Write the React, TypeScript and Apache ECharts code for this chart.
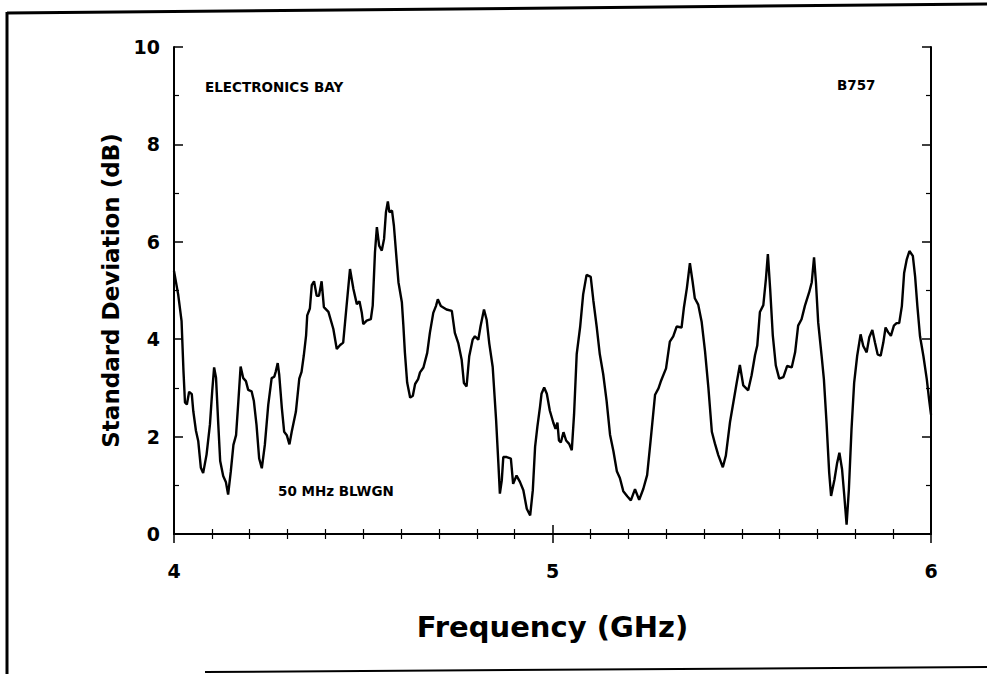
import React, { useEffect, useRef } from "react";
import * as echarts from "echarts";

// Frequency (GHz) sample points
const freq: number[] = [
  4.0, 4.011, 4.02, 4.025, 4.029, 4.034, 4.04, 4.047, 4.051, 4.058, 4.064, 4.071, 4.077, 4.086, 4.095,
  4.101, 4.106, 4.111, 4.117, 4.122, 4.13, 4.137, 4.143, 4.15, 4.157, 4.164, 4.17, 4.176, 4.183, 4.19,
  4.196, 4.205, 4.211, 4.218, 4.225, 4.232, 4.24, 4.249, 4.258, 4.265, 4.269, 4.274, 4.278, 4.285, 4.291,
  4.298, 4.305, 4.311, 4.322, 4.331, 4.337, 4.343, 4.349, 4.352, 4.359, 4.364, 4.37, 4.377, 4.383, 4.39,
  4.396, 4.408, 4.421, 4.43, 4.439, 4.447, 4.456, 4.465, 4.474, 4.483, 4.49, 4.496, 4.5, 4.509, 4.52,
  4.525, 4.531, 4.536, 4.542, 4.549, 4.555, 4.56, 4.565, 4.569, 4.576, 4.581, 4.588, 4.593, 4.602, 4.606,
  4.61, 4.616, 4.624, 4.631, 4.637, 4.645, 4.65, 4.659, 4.669, 4.676, 4.685, 4.692, 4.697, 4.705, 4.72,
  4.734, 4.742, 4.751, 4.76, 4.766, 4.773, 4.78, 4.789, 4.795, 4.804, 4.81, 4.819, 4.826, 4.833, 4.842,
  4.851, 4.857, 4.861, 4.866, 4.87, 4.879, 4.89, 4.896, 4.905, 4.914, 4.923, 4.932, 4.941, 4.948, 4.954,
  4.96, 4.967, 4.971, 4.978, 4.985, 4.993, 5.002, 5.008, 5.013, 5.017, 5.022, 5.029, 5.036, 5.044, 5.051,
  5.057, 5.064, 5.073, 5.081, 5.09, 5.101, 5.108, 5.117, 5.125, 5.134, 5.143, 5.152, 5.161, 5.17, 5.178,
  5.187, 5.198, 5.207, 5.218, 5.229, 5.24, 5.25, 5.259, 5.271, 5.28, 5.286, 5.3, 5.31, 5.319, 5.328,
  5.341, 5.347, 5.355, 5.363, 5.37, 5.376, 5.385, 5.394, 5.403, 5.412, 5.421, 5.429, 5.438, 5.45, 5.458,
  5.469, 5.478, 5.487, 5.495, 5.504, 5.517, 5.526, 5.535, 5.541, 5.548, 5.557, 5.564, 5.569, 5.575, 5.582,
  5.59, 5.599, 5.61, 5.62, 5.632, 5.641, 5.649, 5.658, 5.667, 5.678, 5.685, 5.691, 5.696, 5.702, 5.711,
  5.717, 5.724, 5.731, 5.736, 5.745, 5.752, 5.758, 5.765, 5.771, 5.777, 5.783, 5.79, 5.797, 5.805, 5.814,
  5.821, 5.83, 5.837, 5.845, 5.852, 5.859, 5.867, 5.874, 5.88, 5.887, 5.894, 5.902, 5.909, 5.916, 5.923,
  5.929, 5.936, 5.943, 5.952, 5.958, 5.964, 5.971, 5.98, 5.989, 5.995, 6.0,
];

// Standard deviation (dB) at each frequency
const stdDev: number[] = [
  5.4, 4.92, 4.37, 3.35, 2.7, 2.66, 2.92, 2.87, 2.52, 2.12, 1.91, 1.36, 1.25, 1.63, 2.25,
  2.94, 3.42, 3.21, 2.25, 1.5, 1.19, 1.07, 0.81, 1.28, 1.83, 2.03, 2.72, 3.44, 3.2, 3.14,
  2.96, 2.93, 2.73, 2.24, 1.55, 1.35, 1.83, 2.65, 3.2, 3.23, 3.34, 3.51, 3.27, 2.58, 2.1,
  2.03, 1.84, 2.1, 2.51, 3.19, 3.33, 3.67, 4.08, 4.49, 4.63, 5.11, 5.19, 4.89, 4.89, 5.19,
  4.66, 4.56, 4.21, 3.8, 3.88, 3.93, 4.69, 5.44, 5.03, 4.72, 4.78, 4.55, 4.31, 4.38, 4.41,
  4.69, 5.79, 6.3, 5.92, 5.82, 6.06, 6.61, 6.83, 6.61, 6.64, 6.33, 5.65, 5.17, 4.76, 4.28,
  3.73, 3.11, 2.8, 2.84, 3.08, 3.18, 3.32, 3.42, 3.72, 4.13, 4.54, 4.68, 4.82, 4.68, 4.61,
  4.58, 4.13, 3.92, 3.58, 3.1, 3.03, 3.65, 3.99, 4.06, 3.99, 4.27, 4.61, 4.4, 3.91, 3.43,
  2.34, 1.45, 0.83, 1.1, 1.58, 1.58, 1.55, 1.03, 1.2, 1.07, 0.9, 0.52, 0.38, 0.9, 1.79,
  2.2, 2.61, 2.88, 3.01, 2.88, 2.53, 2.29, 2.16, 2.29, 1.92, 1.88, 2.09, 1.92, 1.85, 1.72,
  2.46, 3.7, 4.25, 4.92, 5.32, 5.28, 4.79, 4.24, 3.69, 3.28, 2.73, 2.04, 1.7, 1.29, 1.15,
  0.88, 0.77, 0.69, 0.92, 0.7, 0.93, 1.21, 1.9, 2.86, 2.99, 3.13, 3.4, 3.95, 4.06, 4.26,
  4.24, 4.64, 5.05, 5.56, 5.19, 4.84, 4.71, 4.36, 3.75, 2.99, 2.1, 1.86, 1.62, 1.37, 1.61,
  2.3, 2.71, 3.12, 3.47, 3.05, 2.95, 3.26, 3.67, 3.87, 4.56, 4.7, 5.25, 5.75, 5.04, 4.08,
  3.46, 3.19, 3.22, 3.45, 3.42, 3.73, 4.28, 4.41, 4.69, 4.96, 5.17, 5.68, 5.17, 4.34, 3.66,
  3.18, 2.29, 1.26, 0.78, 1.12, 1.46, 1.67, 1.33, 0.78, 0.19, 0.91, 2.15, 3.11, 3.66, 4.1,
  3.86, 3.73, 4.04, 4.19, 3.93, 3.69, 3.66, 3.93, 4.24, 4.14, 4.07, 4.28, 4.33, 4.33, 4.68,
  5.36, 5.64, 5.81, 5.71, 5.29, 4.68, 4.06, 3.65, 3.17, 2.76, 2.45,
];

const xTitle = "Frequency (GHz)";
const yTitle = "Standard Deviation (dB)";
const notes = [
  { text: "ELECTRONICS BAY", left: 205, top: 80 },
  { text: "B757", left: 837, top: 78 },
  { text: "50 MHz BLWGN", left: 278, top: 484 },
];

const FONT = "DejaVu Sans";

export default function App() {
  const ref = useRef<HTMLDivElement>(null);
  useEffect(() => {
    if (!ref.current) return;
    const chart = echarts.init(ref.current, undefined, { renderer: "svg" });
    const data = freq.map((f, i) => [f, stdDev[i]]);
    const axisLine = { show: true, lineStyle: { color: "#000", width: 2 } };
    const xCommon = {
      type: "value" as const,
      min: 4,
      max: 6,
      interval: 1,
      axisLine,
      axisTick: { show: true, inside: true, length: 9, lineStyle: { color: "#000", width: 1.5 } },
      minorTick: { show: true, splitNumber: 10, length: 5, lineStyle: { color: "#000", width: 1.2 } },
      splitLine: { show: false },
      minorSplitLine: { show: false },
    };
    const yCommon = {
      type: "value" as const,
      min: 0,
      max: 10,
      interval: 2,
      axisLine,
      axisTick: { show: true, inside: true, length: 9, lineStyle: { color: "#000", width: 1.5 } },
      minorTick: { show: true, splitNumber: 2, length: 5, lineStyle: { color: "#000", width: 1.2 } },
      splitLine: { show: false },
      minorSplitLine: { show: false },
    };
    chart.setOption({
      animation: false,
      backgroundColor: "#fff",
      grid: { left: 174, right: 56, top: 47, bottom: 140, containLabel: false },
      xAxis: [
        {
          ...xCommon,
          position: "bottom",
          name: xTitle,
          nameLocation: "middle",
          nameGap: 78,
          nameTextStyle: { fontFamily: FONT, fontWeight: "bold", fontSize: 29, color: "#000" },
          axisLabel: { margin: 27, fontFamily: FONT, fontWeight: "bold", fontSize: 19, color: "#000" },
        },
        { ...xCommon, position: "top", axisLabel: { show: false } },
      ],
      yAxis: [
        {
          ...yCommon,
          position: "left",
          name: yTitle,
          nameLocation: "middle",
          nameGap: 52,
          nameTextStyle: { fontFamily: FONT, fontWeight: "bold", fontSize: 23, color: "#000" },
          axisLabel: { margin: 14, fontFamily: FONT, fontWeight: "bold", fontSize: 19, color: "#000" },
        },
        { ...yCommon, position: "right", axisLabel: { show: false } },
      ],
      series: [
        {
          type: "line",
          data,
          showSymbol: false,
          smooth: false,
          lineStyle: { color: "#000", width: 2.4 },
          z: 3,
        },
      ],
      graphic: [
        ...notes.map((n) => ({
          type: "text",
          left: n.left,
          top: n.top,
          style: { text: n.text, fontFamily: FONT, fontWeight: "bold", fontSize: 13.5, fill: "#000" },
        })),
        { type: "line", shape: { x1: 7, y1: 13, x2: 987, y2: 4 }, style: { stroke: "#000", lineWidth: 3 } },
        { type: "line", shape: { x1: 7, y1: 12, x2: 7, y2: 674 }, style: { stroke: "#000", lineWidth: 3 } },
        { type: "line", shape: { x1: 205, y1: 672, x2: 987, y2: 667 }, style: { stroke: "#000", lineWidth: 2 } },
      ],
    });
    return () => chart.dispose();
  }, []);
  return (
    <div
      ref={ref}
      style={{ position: "absolute", left: 0, top: 0, width: 987, height: 674, background: "#fff" }}
    />
  );
}
